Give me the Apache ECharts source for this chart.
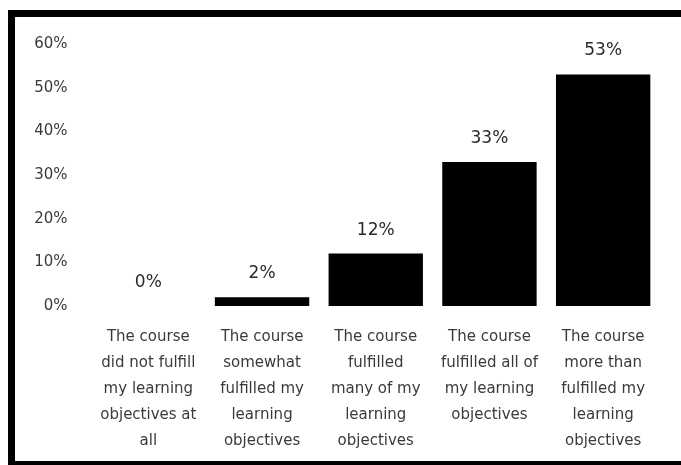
<!DOCTYPE html>
<html>
<head>
<meta charset="utf-8">
<script src="https://cdn.jsdelivr.net/npm/echarts@6/dist/echarts.min.js"></script>
<style>
html,body{margin:0;padding:0;background:#fff;}
#chart{width:681px;height:465px;}
</style>
</head>
<body>
<div id="chart"></div>
<script>
var categories = [
  "The course\ndid not fulfill\nmy learning\nobjectives at\nall",
  "The course\nsomewhat\nfulfilled my\nlearning\nobjectives",
  "The course\nfulfilled\nmany of my\nlearning\nobjectives",
  "The course\nfulfilled all of\nmy learning\nobjectives",
  "The course\nmore than\nfulfilled my\nlearning\nobjectives"
];
var values = [0, 2, 12, 33, 53];
var yTicks = { min: 0, max: 60, interval: 10 };

var chart = echarts.init(document.getElementById('chart'));
chart.setOption({
  backgroundColor: '#fff',
  animation: false,
  textStyle: { fontFamily: 'DejaVu Sans' },
  grid: { left: 91.5, right: 21, top: 44, bottom: 159 },
  xAxis: {
    type: 'category',
    data: categories,
    axisLine: { show: false },
    axisTick: { show: false },
    axisLabel: {
      interval: 0,
      margin: 18,
      fontSize: 15,
      lineHeight: 26,
      color: '#3a3a3a',
      fontFamily: 'DejaVu Sans'
    }
  },
  yAxis: {
    type: 'value',
    min: yTicks.min,
    max: yTicks.max,
    interval: yTicks.interval,
    axisLine: { show: false },
    axisTick: { show: false },
    splitLine: { show: false },
    axisLabel: {
      formatter: '{value}%',
      margin: 24,
      fontSize: 15,
      color: '#3a3a3a',
      fontFamily: 'DejaVu Sans'
    }
  },
  series: [{
    type: 'bar',
    data: values,
    barCategoryGap: '17%',
    itemStyle: { color: '#000' },
    label: {
      show: true,
      position: 'top',
      distance: 15,
      formatter: '{c}%',
      fontSize: 17,
      color: '#2a2a2a',
      fontFamily: 'DejaVu Sans'
    }
  }],
  graphic: [
    { type: 'rect', shape: { x: 8, y: 10, width: 673, height: 7 }, style: { fill: '#000' } },
    { type: 'rect', shape: { x: 8, y: 10, width: 7, height: 455 }, style: { fill: '#000' } },
    { type: 'rect', shape: { x: 8, y: 461, width: 673, height: 4 }, style: { fill: '#000' } }
  ]
});
</script>
</body>
</html>
